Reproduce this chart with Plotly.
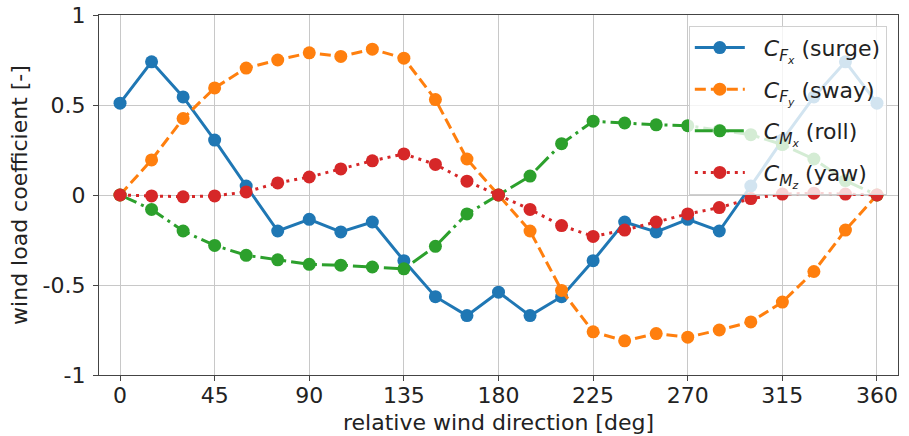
import plotly.graph_objects as go

direction = [0, 15, 30, 45, 60, 75, 90, 105, 120, 135, 150, 165, 180,
             195, 210, 225, 240, 255, 270, 285, 300, 315, 330, 345, 360]
surge = [0.51, 0.74, 0.545, 0.305, 0.05, -0.2, -0.135, -0.205, -0.15, -0.365, -0.565, -0.67, -0.54,
         -0.67, -0.565, -0.365, -0.15, -0.205, -0.135, -0.2, 0.05, 0.305, 0.545, 0.74, 0.51]
sway = [0.0, 0.195, 0.425, 0.595, 0.705, 0.75, 0.79, 0.77, 0.81, 0.76, 0.53, 0.2, 0.0,
        -0.2, -0.53, -0.76, -0.81, -0.77, -0.79, -0.75, -0.705, -0.595, -0.425, -0.195, 0.0]
roll = [0.0, -0.08, -0.2, -0.28, -0.335, -0.36, -0.385, -0.39, -0.4, -0.41, -0.285, -0.105, 0.0,
        0.105, 0.285, 0.41, 0.40, 0.39, 0.385, 0.36, 0.335, 0.28, 0.2, 0.08, 0.0]
yaw = [0.0, -0.005, -0.01, -0.005, 0.017, 0.067, 0.1, 0.145, 0.19, 0.228, 0.17, 0.077, 0.0,
       -0.08, -0.17, -0.23, -0.195, -0.15, -0.105, -0.07, -0.02, 0.005, 0.01, 0.005, 0.0]

names = [
    "\u00a0\u00a0<i>C</i><sub><i>F</i><sub><i>x</i></sub></sub> (surge)",
    "\u00a0\u00a0<i>C</i><sub><i>F</i><sub><i>y</i></sub></sub> (sway)",
    "\u00a0\u00a0<i>C</i><sub><i>M</i><sub><i>x</i></sub></sub> (roll)",
    "\u00a0\u00a0<i>C</i><sub><i>M</i><sub><i>z</i></sub></sub> (yaw)",
]
series = [surge, sway, roll, yaw]
colors = ["#1f77b4", "#ff7f0e", "#2ca02c", "#d62728"]
dashes = ["solid", "11px,5px", "18px,5px,3px,5px", "3px,5px"]

xticks = [0, 45, 90, 135, 180, 225, 270, 315, 360]
yticks = [-1, -0.5, 0, 0.5, 1]
yticklabels = ["-1", "-0.5", "0", "0.5", "1"]

fig = go.Figure()
for i, (nm, ys, c, d) in enumerate(zip(names, series, colors, dashes)):
    fig.add_trace(go.Scatter(
        x=direction, y=ys, name=nm, mode="lines+markers",
        line=dict(color=c, width=3, dash=d),
        marker=dict(color=c, size=13),
        legendgroup=f"g{i}",
    ))

fig.update_layout(
    width=909, height=436,
    margin=dict(l=99, r=11, t=15, b=61, autoexpand=False),
    paper_bgcolor="white", plot_bgcolor="white",
    font=dict(family="DejaVu Sans", size=22, color="#222"),
    showlegend=True,
    legend=dict(
        x=0.986, y=0.97, xanchor="right", yanchor="top",
        bgcolor="rgba(255,255,255,0.8)", bordercolor="#d0d0d0", borderwidth=1,
        font=dict(family="DejaVu Sans", size=22, color="#222"),
        tracegroupgap=10, itemwidth=50,
    ),
    xaxis=dict(
        range=[-10, 370], tickvals=xticks, ticktext=[str(t) for t in xticks],
        showgrid=True, gridcolor="#c8c8c8", gridwidth=1, zeroline=False,
        showline=True, linecolor="#444", linewidth=1.2, mirror=True,
        ticks="outside", ticklen=0, automargin=False,
        minor=dict(tickvals=xticks, ticks="outside", ticklen=5, tickcolor="#444", showgrid=False),
        tickfont=dict(size=22), ticklabeloverflow="allow",
        title=dict(text="relative wind direction [deg]", standoff=8, font=dict(size=22)),
    ),
    yaxis=dict(
        range=[-1, 1], tickvals=yticks, ticktext=yticklabels,
        showgrid=True, gridcolor="#c8c8c8", gridwidth=1, zeroline=False,
        showline=True, linecolor="#444", linewidth=1.2, mirror=True,
        ticks="outside", ticklen=5, tickcolor="#444", automargin=False,
        tickfont=dict(size=22), ticklabelstandoff=3, ticklabeloverflow="allow",
        title=dict(text="wind load coefficient [-]", standoff=8, font=dict(size=22)),
    ),
)

fig.write_html("out.html", config={"displayModeBar": False},
               post_script="document.body.style.margin='0';")
